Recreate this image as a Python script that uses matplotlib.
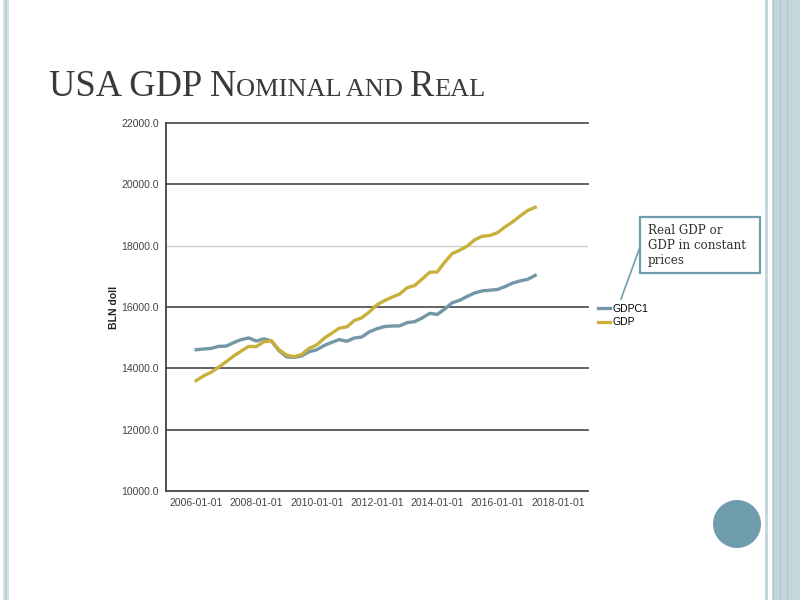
import numpy as np
import pandas as pd
import matplotlib
matplotlib.use("Agg")
import matplotlib.pyplot as plt
import matplotlib.dates as mdates
from matplotlib.patches import Rectangle, Ellipse
from matplotlib.lines import Line2D

# quarterly data, billions of dollars
quarters = pd.date_range("2006-01-01", periods=46, freq="QS")
gdpc1 = [14606, 14630, 14650, 14716, 14726, 14838, 14938, 14991,
         14889, 14963, 14891, 14577, 14375, 14356, 14402, 14541,
         14605, 14745, 14845, 14939, 14881, 14989, 15021, 15191,
         15291, 15362, 15381, 15384, 15491, 15521, 15641, 15794,
         15757, 15935, 16140, 16221, 16350, 16460, 16527, 16548,
         16572, 16664, 16779, 16851, 16903, 17031]
gdp = [13599, 13753, 13870, 14040, 14216, 14402, 14564, 14715,
       14707, 14866, 14899, 14608, 14431, 14381, 14449, 14651,
       14765, 14980, 15142, 15310, 15351, 15558, 15648, 15842,
       16069, 16207, 16320, 16420, 16629, 16700, 16911, 17133,
       17144, 17463, 17743, 17853, 17991, 18194, 18307, 18332,
       18425, 18612, 18776, 18968, 19148, 19250]
series_names = ["GDPC1", "GDP"]
y_ticks = [10000, 12000, 14000, 16000, 18000, 20000, 22000]
x_tick_years = [2006, 2008, 2010, 2012, 2014, 2016, 2018]

line_colors = ["#7397A7", "#C8B03A"]
slide_blue = "#C6D6DD"
accent = "#6F9DAE"

fig = plt.figure(figsize=(8, 6), dpi=100, facecolor="white")

# slide decorations
fig.patches.append(Rectangle((3 / 800, 0), 6 / 800, 1, transform=fig.transFigure,
                             facecolor="#D3E0E5", edgecolor="none"))
fig.lines.append(Line2D([6 / 800, 6 / 800], [0, 1], transform=fig.transFigure,
                        color="#B9CCD4", lw=1.2))
fig.patches.append(Rectangle((765 / 800, 0), 3 / 800, 1, transform=fig.transFigure,
                             facecolor=slide_blue, edgecolor="none"))
fig.patches.append(Rectangle((772 / 800, 0), 28 / 800, 1, transform=fig.transFigure,
                             facecolor=slide_blue, edgecolor="none"))
for xp in [773, 780, 787]:
    fig.lines.append(Line2D([xp / 800, xp / 800], [0, 1], transform=fig.transFigure,
                            color="#AFC5CE", lw=0.8))
fig.patches.append(Ellipse((737 / 800, 1 - 524 / 600), 48 / 800, 48 / 600,
                           transform=fig.transFigure, facecolor=accent, edgecolor="none"))

# title in small caps
pieces = [("USA GDP N", 26.3), ("OMINAL AND ", 19), ("R", 26.3), ("EAL", 19)]
renderer = fig.canvas.get_renderer()
x = 49 / 800
for txt, fs in pieces:
    t = fig.text(x, 1 - 96 / 600, txt, fontsize=fs, family="Liberation Serif",
                 color="#3A3A3A", va="baseline", ha="left")
    bb = t.get_window_extent(renderer=renderer)
    x = bb.x1 / fig.bbox.width

ax = fig.add_axes([166 / 800, 1 - 491 / 600, 422 / 800, 368 / 600])
ax.plot(quarters, gdpc1, color=line_colors[0], lw=2.4, label=series_names[0], zorder=3)
ax.plot(quarters, gdp, color=line_colors[1], lw=2.4, label=series_names[1], zorder=4)

ax.set_ylim(10000, 22000)
ax.set_xlim(pd.Timestamp("2005-01-01"), pd.Timestamp("2019-01-01"))
ax.set_yticks(y_ticks)
ax.set_yticklabels([f"{v:.1f}" for v in y_ticks])
ax.set_xticks([pd.Timestamp(f"{y}-01-01") for y in x_tick_years])
ax.xaxis.set_major_formatter(mdates.DateFormatter("%Y-%m-%d"))
for v in y_ticks[1:]:
    if v == 18000:
        ax.axhline(v, color="#CFCFCF", lw=1.0, zorder=1)
    else:
        ax.axhline(v, color="#555555", lw=1.3, zorder=1, clip_on=False)

for s in ["top", "right"]:
    ax.spines[s].set_visible(False)
ax.spines["left"].set_color("#444444")
ax.spines["bottom"].set_color("#444444")
ax.spines["left"].set_linewidth(1.3)
ax.spines["bottom"].set_linewidth(1.3)
ax.tick_params(length=0, labelsize=7.5, labelcolor="#444444", pad=5)
for lbl in ax.get_xticklabels() + ax.get_yticklabels():
    lbl.set_family("Liberation Sans")
ax.set_ylabel("BLN doll", fontsize=7.5, fontweight="bold", family="Liberation Sans",
              color="#222222", labelpad=2)

fig.legend(loc="upper left", bbox_to_anchor=(596 / 800, 1 - 302 / 600), frameon=False,
           handlelength=1.1, handletextpad=0.3, labelspacing=0.3,
           prop={"family": "Liberation Sans", "size": 7.5}, borderaxespad=0, borderpad=0.2)

# callout
fig.patches.append(Rectangle((640 / 800, 1 - 273 / 600), 120 / 800, 56 / 600,
                             transform=fig.transFigure, facecolor="white",
                             edgecolor=accent, lw=1.6))
fig.lines.append(Line2D([640 / 800, 621 / 800], [1 - 247 / 600, 1 - 299 / 600],
                        transform=fig.transFigure, color=accent, lw=1.2))
fig.text(648 / 800, 1 - 224 / 600, "Real GDP or\nGDP in constant\nprices",
         fontsize=8.6, family="DejaVu Serif", color="#333333", va="top", ha="left",
         linespacing=1.2)

fig.savefig("out.png", dpi=100, facecolor="white")
